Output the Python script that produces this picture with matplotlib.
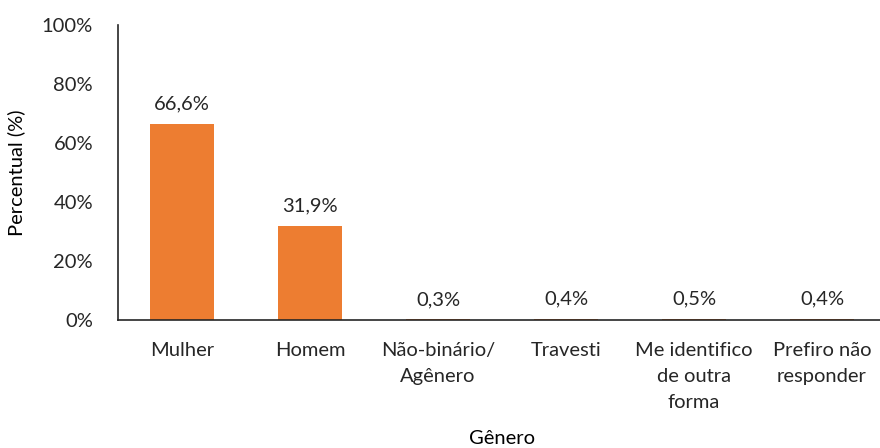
import matplotlib.pyplot as plt
from matplotlib.ticker import PercentFormatter

categorias = ["Mulher", "Homem", "Não-binário/\nAgênero", "Travesti",
              "Me identifico\nde outra\nforma", "Prefiro não\nresponder"]
percentuais = [66.6, 31.9, 0.3, 0.4, 0.5, 0.4]
rotulos = ["66,6%", "31,9%", "0,3%", "0,4%", "0,5%", "0,4%"]

plt.rcParams["font.family"] = ["Lato", "DejaVu Sans"]
plt.rcParams["font.size"] = 14.5
plt.rcParams["text.color"] = "#262626"

fig = plt.figure(figsize=(8.8, 4.48), dpi=100)
ax = fig.add_axes([118 / 880, 1 - 320 / 448, 768 / 880, 295 / 448])

x = range(len(categorias))
bars = ax.bar(x, percentuais, width=0.5, color="#ED7D31")
for b, txt in zip(bars, rotulos):
    ax.annotate(txt, (b.get_x() + b.get_width() / 2, b.get_height()),
                xytext=(0, 8), textcoords="offset points",
                ha="center", va="bottom", color="#262626")

ax.set_xlim(-0.5, len(categorias) - 0.5)
ax.set_ylim(0, 100)
ax.set_yticks(range(0, 101, 20))
ax.yaxis.set_major_formatter(PercentFormatter(decimals=0))
ax.set_xticks(list(x))
ax.set_xticklabels(categorias, linespacing=1.62, va="top")
ax.tick_params(length=0, colors="#262626")
ax.tick_params(axis="y", pad=18)
ax.tick_params(axis="x", pad=16)
for s in ["top", "right"]:
    ax.spines[s].set_visible(False)
for s in ["left", "bottom"]:
    ax.spines[s].set_color("#262626")
    ax.spines[s].set_linewidth(1.2)

ax.set_ylabel("Percentual (%)", labelpad=12)
ax.set_xlabel("Gênero", labelpad=14)

fig.savefig("out.png", dpi=100)
